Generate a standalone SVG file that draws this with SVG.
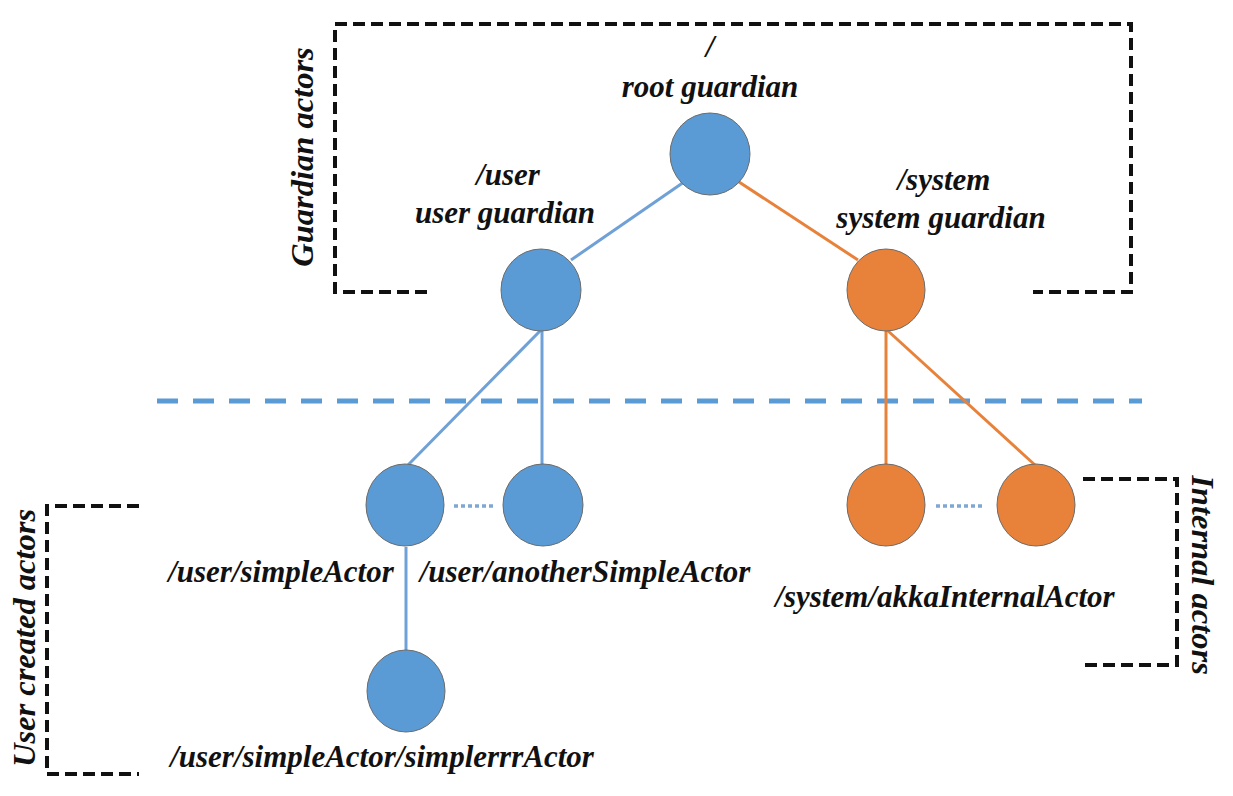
<svg xmlns="http://www.w3.org/2000/svg" width="1233" height="796" viewBox="0 0 1233 796">
<style>
.t{font-family:"Liberation Serif",serif;font-style:italic;font-weight:bold;font-size:31px;fill:#111;text-anchor:middle}
.r{font-size:32.5px}
.b{fill:#5b9bd5;stroke:#6b6b6b;stroke-width:1}
.o{fill:#e8823a;stroke:#6b6b6b;stroke-width:1}
.lb{stroke:#6fa0d6;stroke-width:3;fill:none}
.lo{stroke:#e8823a;stroke-width:3;fill:none}
.br{stroke:#111;stroke-width:4;fill:none;stroke-dasharray:12 6}
.dot{stroke:#7ea7d4;stroke-width:3.5;stroke-dasharray:4 3;fill:none}
</style>
<rect width="1233" height="796" fill="#fff"/>
<g id="brackets">
<path class="br" d="M427,292 H335 V24 H1131 V292 H1033"/>
<path class="br" d="M139,506 H47 V774 H139"/>
<path class="br" d="M1083,479 H1177 V665 H1080"/>
</g>
<line id="separator" x1="157" y1="401" x2="1142" y2="401" stroke="#5b9bd5" stroke-width="5" stroke-dasharray="21 15"/>
<g id="connectors">
<line class="lb" x1="684" y1="182" x2="571" y2="260"/>
<line class="lo" x1="736" y1="180" x2="858" y2="260"/>
<line class="lb" x1="541" y1="330" x2="408" y2="465"/>
<line class="lb" x1="542" y1="330" x2="542" y2="465"/>
<line class="lb" x1="406" y1="547" x2="406" y2="650"/>
<line class="lo" x1="886" y1="330" x2="886" y2="465"/>
<line class="lo" x1="887" y1="330" x2="1035" y2="465"/>
<line class="dot" x1="454" y1="506" x2="494" y2="506"/>
<line class="dot" x1="936" y1="506" x2="985" y2="506"/>
</g>
<g id="root"><ellipse class="b" cx="710" cy="154" rx="40" ry="41"/><text class="t" x="710" y="57">/</text><text class="t" x="710" y="97">root guardian</text></g>
<g id="user"><ellipse class="b" cx="541" cy="290" rx="40" ry="41"/><text class="t" x="508" y="185">/user</text><text class="t" x="505" y="223">user guardian</text></g>
<g id="system"><ellipse class="o" cx="886" cy="290" rx="39" ry="41"/><text class="t" x="944" y="190">/system</text><text class="t" x="941" y="228">system guardian</text></g>
<g id="simpleActor"><ellipse class="b" cx="405" cy="505" rx="39" ry="41"/><text class="t" x="281" y="582">/user/simpleActor</text></g>
<g id="anotherSimpleActor"><ellipse class="b" cx="543" cy="505" rx="40" ry="41"/><text class="t" x="585" y="582">/user/anotherSimpleActor</text></g>
<g id="simplerrrActor"><ellipse class="b" cx="406" cy="691" rx="39" ry="41"/><text class="t" x="382" y="767">/user/simpleActor/simplerrrActor</text></g>
<g id="akka1"><ellipse class="o" cx="886" cy="505" rx="39" ry="41"/></g>
<g id="akka2"><ellipse class="o" cx="1036" cy="505" rx="39" ry="41"/><text class="t" x="945" y="607">/system/akkaInternalActor</text></g>
<g id="labels">
<text class="t r" transform="translate(313,157) rotate(-90)">Guardian actors</text>
<text class="t r" transform="translate(35,638) rotate(-90)">User created actors</text>
<text class="t r" transform="translate(1192,575) rotate(90)">Internal actors</text>
</g>
</svg>
